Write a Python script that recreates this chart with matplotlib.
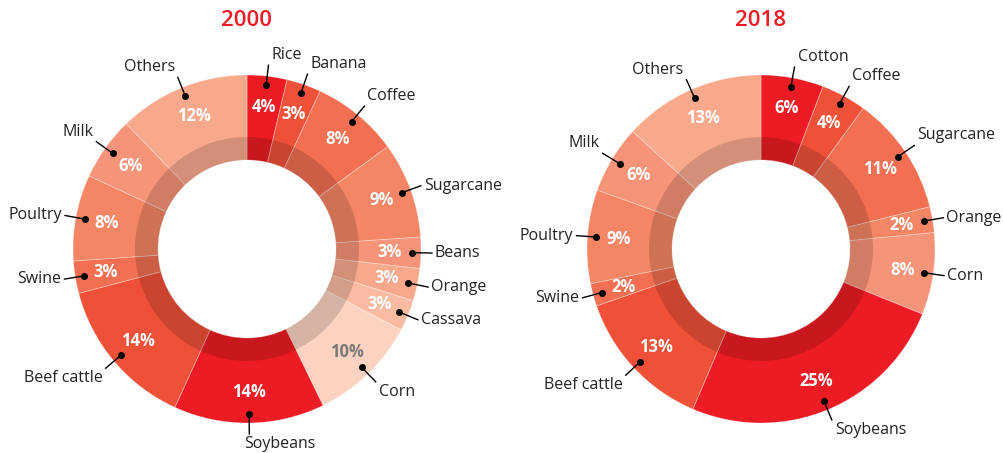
import numpy as np
import matplotlib
matplotlib.use('Agg')
import matplotlib.pyplot as plt

plt.rcParams['font.family'] = ['Open Sans', 'DejaVu Sans']

# 2000 - shares of agricultural production value (%), clockwise from top
crops_2000 = ['Rice', 'Banana', 'Coffee', 'Sugarcane', 'Beans', 'Orange', 'Cassava',
              'Corn', 'Soybeans', 'Beef cattle', 'Swine', 'Poultry', 'Milk', 'Others']
shares_2000 = [3.7, 3.2, 8.1, 8.9, 2.9, 3.0, 2.9, 10.1, 14.0, 14.1, 3.0, 8.0, 5.9, 12.2]
labels_2000 = [4, 3, 8, 9, 3, 3, 3, 10, 14, 14, 3, 8, 6, 12]

# 2018
crops_2018 = ['Cotton', 'Coffee', 'Sugarcane', 'Orange', 'Corn', 'Soybeans',
              'Beef cattle', 'Swine', 'Poultry', 'Milk', 'Others']
shares_2018 = [5.8, 4.2, 11.1, 2.4, 7.6, 25.3, 13.3, 2.1, 8.7, 6.3, 13.2]
labels_2018 = [6, 4, 11, 2, 8, 25, 13, 2, 9, 6, 13]

RED = '#ed1c24'
C2 = '#ef5038'
C3 = '#f26f52'
C4 = '#f48565'
C5 = '#f69479'
C6 = '#f8a98c'
C7 = '#fabba2'
C8 = '#fcd3c1'

colors_2000 = [RED, C2, C3, C4, C5, C6, C7, C8, RED, C2, C3, C4, C5, C6]
colors_2018 = [RED, C2, C3, C4, C5, RED, C2, C3, C4, C5, C6]

W, H = 1004, 453
R_OUT, R_BAND, R_HOLE = 174, 112, 89


def draw_donut(ax, cx, cy, title, names, shares, pcts, colors):
    ax.pie(shares, colors=colors, center=(cx, cy), radius=R_OUT, startangle=90,
           counterclock=False,
           wedgeprops=dict(width=R_OUT - R_HOLE, edgecolor=(1, 1, 1, 0.35), linewidth=0.6))
    # darker inner band
    ax.pie([1], colors=['black'], center=(cx, cy), radius=R_BAND,
           wedgeprops=dict(width=R_BAND - R_HOLE, alpha=0.15, linewidth=0))

    total = sum(shares)
    cum = 0
    for name, v, p, c in zip(names, shares, pcts, colors):
        mid = cum + v / 2
        cum += v
        th = np.deg2rad(90 - 360 * mid / total)
        ux, uy = np.cos(th), np.sin(th)
        # percentage inside the slice
        tcol = '#7a7a7a' if c == C8 else 'white'
        ax.text(cx + 143 * ux, cy + 143 * uy, f'{p}%', ha='center', va='center',
                fontsize=12, fontweight='bold', color=tcol)
        # leader line + dot
        x0, y0 = cx + 165 * ux, cy + 165 * uy
        x1, y1 = cx + 185 * ux, cy + 185 * uy
        ax.plot([x0, x1], [y0, y1], color='black', lw=1)
        ax.plot(x0, y0, 'o', color='black', ms=4)
        ha = 'left' if ux >= -0.01 else 'right'
        if uy > 0.4:
            va = 'bottom'
        elif uy < -0.4:
            va = 'top'
        else:
            va = 'center'
        ox = 3 if ha == 'left' else -3
        if abs(ux) < 0.05:
            ox = -5
        oy = 2 if va == 'bottom' else (-2 if va == 'top' else 0)
        ax.text(x1 + ox, y1 + oy, name, ha=ha, va=va, fontsize=11.5, color='#222222')

    ax.text(cx, H - 20, title, ha='center', va='center', fontsize=16,
            fontweight='semibold', color=RED)


fig = plt.figure(figsize=(W / 100, H / 100), dpi=100)
ax = fig.add_axes([0, 0, 1, 1])
draw_donut(ax, 247, H - 249, '2000', crops_2000, shares_2000, labels_2000, colors_2000)
draw_donut(ax, 761, H - 249, '2018', crops_2018, shares_2018, labels_2018, colors_2018)
ax.set_aspect('auto')
ax.set_xlim(0, W)
ax.set_ylim(0, H)
ax.axis('off')
fig.savefig('out.png', dpi=100, facecolor='white')
